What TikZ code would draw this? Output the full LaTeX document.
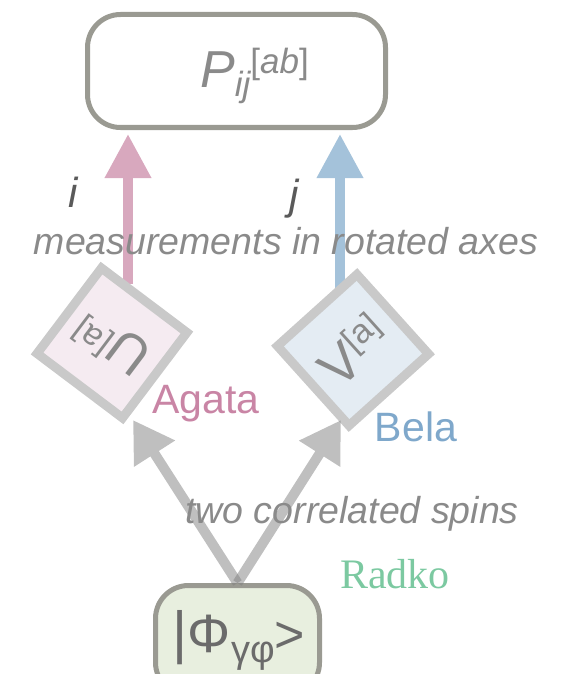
\documentclass[tikz,border=0pt]{standalone}
\usepackage{fontspec}
\setmainfont{Liberation Sans}
\newfontfamily\radkofont{Liberation Serif}
\usetikzlibrary{arrows.meta}
\definecolor{boxline}{HTML}{9A9A92}
\definecolor{sqline}{HTML}{C9C9C9}
\definecolor{pinkA}{HTML}{D8A8BE}
\definecolor{blueA}{HTML}{A4C2DA}
\definecolor{pinkT}{HTML}{C985A5}
\definecolor{blueT}{HTML}{7FA8CB}
\definecolor{greenT}{HTML}{7CC9A1}
\definecolor{pinkF}{HTML}{F5EBF1}
\definecolor{blueF}{HTML}{E4ECF3}
\definecolor{greenF}{HTML}{E8EFDF}
\definecolor{labgray}{HTML}{8A8A8A}
\definecolor{darkgray}{HTML}{5A5A5A}
\newcommand{\fs}[1]{\fontsize{#1}{#1}\selectfont}
\begin{document}
\begin{tikzpicture}[x=1pt,y=-1pt,
  rbox/.style={draw=boxline, line width=5pt, rounded corners=33pt, inner sep=0pt},
  sqbox/.style={draw=sqline, line width=9pt, minimum size=107pt, inner sep=0pt},
  colarrow/.style={line width=10pt, -{Triangle[width=44pt,length=44pt]}},
  grayarrow/.style={draw=black!50, line width=10pt, -{Triangle[width=46pt,length=40pt]}},
  lab/.style={text=labgray, inner sep=0pt, font=\fs{37.5}\itshape},
  idx/.style={text=darkgray, inner sep=0pt, font=\fs{42}\itshape}
]
\useasboundingbox (0,0) rectangle (564,674);
\clip (0,0) rectangle (564,674);

% top box
\node[rbox, minimum width=298pt, minimum height=113pt] (P) at (236.5,71) {};
\node[text=labgray, inner sep=0pt, anchor=base west] (Ptext) at (200,88)
  {\fs{52}\itshape P\raisebox{-9pt}{\fs{35}ij}\raisebox{14pt}{\fs{35}\upshape[\itshape ab\upshape]}};

% colored arrows
\coordinate (aStart) at (128,284);
\coordinate (bStart) at (340,288);
\draw[colarrow, pinkA] (aStart) -- ([yshift=-4pt]aStart |- P.south);
\draw[colarrow, blueA] (bStart) -- ([yshift=-4pt]bStart |- P.south);

% squares
\node[sqbox, fill=pinkF, rotate=143] (Agata) at (112,343)
  {\color{labgray}\fs{54}U\raisebox{18pt}{\fs{34}[a]}};
\node[sqbox, fill=blueF, rotate=42] (Bela) at (353,350)
  {\color{labgray}\fs{54}V\raisebox{18pt}{\fs{34}[a]}};

% bottom box
\node[rbox, fill=greenF, minimum width=164pt, minimum height=110pt] (phi) at (237.5,640.5) {};
\node[text=darkgray!90, inner sep=0pt] (phitext) at (239,640)
  {\fs{58}|\fs{54}Φ\raisebox{-10pt}{\fs{38}γφ}\fs{52}>};

% gray arrows
\coordinate (tipA) at (133,420);
\coordinate (tipB) at (341,420);
\begin{scope}[transparency group, opacity=0.5]
\draw[grayarrow] (phi.north) -- (tipA);
\end{scope}
\begin{scope}[transparency group, opacity=0.5]
\draw[grayarrow] (phi.north) -- (tipB);
\end{scope}

% labels
\node[idx] (i) at (73,192) {i};
\node[idx] (j) at (294,199) {j};
\node[lab] (meas) at (286,241) {measurements in rotated axes};
\node[text=pinkT, inner sep=0pt, font=\fs{41}] (agl) at (206,404) {Agata};
\node[text=blueT, inner sep=0pt, font=\fs{41}] (bel) at (416,427) {Bela};
\node[lab] (spins) at (352,514) {two correlated spins};
\node[text=greenT, inner sep=0pt, font=\radkofont\fs{42}] (rad) at (395,574) {Radko};
\end{tikzpicture}
\end{document}
